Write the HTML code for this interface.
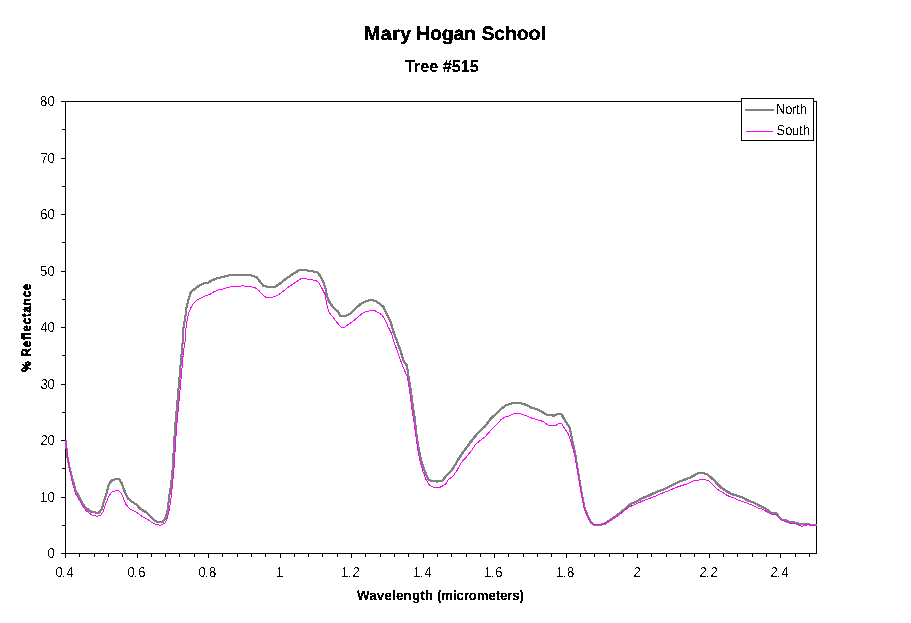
<!DOCTYPE html>
<html lang="en"><head><meta charset="utf-8"><title>Mary Hogan School - Tree #515</title>
<style>
html,body{margin:0;padding:0;background:#fff;}
body{width:911px;height:623px;overflow:hidden;font-family:"Liberation Sans",sans-serif;}
svg{display:block}
</style></head><body>
<svg width="911" height="623" viewBox="0 0 911 623">
<rect x="0" y="0" width="911" height="623" fill="#fff"/>
<g shape-rendering="crispEdges" fill="#000">
<rect x="65" y="101" width="752" height="1"/>
<rect x="816" y="101" width="1" height="453"/>
<rect x="65" y="101" width="1" height="453"/>
<rect x="65" y="553" width="752" height="1"/>
<rect x="61" y="553" width="4" height="1"/>
<rect x="62" y="525" width="3" height="1"/>
<rect x="61" y="497" width="4" height="1"/>
<rect x="62" y="468" width="3" height="1"/>
<rect x="61" y="440" width="4" height="1"/>
<rect x="62" y="412" width="3" height="1"/>
<rect x="61" y="384" width="4" height="1"/>
<rect x="62" y="355" width="3" height="1"/>
<rect x="61" y="327" width="4" height="1"/>
<rect x="62" y="299" width="3" height="1"/>
<rect x="61" y="271" width="4" height="1"/>
<rect x="62" y="242" width="3" height="1"/>
<rect x="61" y="214" width="4" height="1"/>
<rect x="62" y="186" width="3" height="1"/>
<rect x="61" y="158" width="4" height="1"/>
<rect x="62" y="129" width="3" height="1"/>
<rect x="61" y="101" width="4" height="1"/>
<rect x="65" y="553" width="1" height="5"/>
<rect x="79" y="553" width="1" height="4"/>
<rect x="94" y="553" width="1" height="4"/>
<rect x="108" y="553" width="1" height="4"/>
<rect x="122" y="553" width="1" height="4"/>
<rect x="137" y="553" width="1" height="5"/>
<rect x="151" y="553" width="1" height="4"/>
<rect x="165" y="553" width="1" height="4"/>
<rect x="179" y="553" width="1" height="4"/>
<rect x="194" y="553" width="1" height="4"/>
<rect x="208" y="553" width="1" height="5"/>
<rect x="222" y="553" width="1" height="4"/>
<rect x="237" y="553" width="1" height="4"/>
<rect x="251" y="553" width="1" height="4"/>
<rect x="265" y="553" width="1" height="4"/>
<rect x="280" y="553" width="1" height="5"/>
<rect x="294" y="553" width="1" height="4"/>
<rect x="308" y="553" width="1" height="4"/>
<rect x="322" y="553" width="1" height="4"/>
<rect x="337" y="553" width="1" height="4"/>
<rect x="351" y="553" width="1" height="5"/>
<rect x="365" y="553" width="1" height="4"/>
<rect x="380" y="553" width="1" height="4"/>
<rect x="394" y="553" width="1" height="4"/>
<rect x="408" y="553" width="1" height="4"/>
<rect x="423" y="553" width="1" height="5"/>
<rect x="437" y="553" width="1" height="4"/>
<rect x="451" y="553" width="1" height="4"/>
<rect x="466" y="553" width="1" height="4"/>
<rect x="480" y="553" width="1" height="4"/>
<rect x="494" y="553" width="1" height="5"/>
<rect x="508" y="553" width="1" height="4"/>
<rect x="523" y="553" width="1" height="4"/>
<rect x="537" y="553" width="1" height="4"/>
<rect x="551" y="553" width="1" height="4"/>
<rect x="566" y="553" width="1" height="5"/>
<rect x="580" y="553" width="1" height="4"/>
<rect x="594" y="553" width="1" height="4"/>
<rect x="609" y="553" width="1" height="4"/>
<rect x="623" y="553" width="1" height="4"/>
<rect x="637" y="553" width="1" height="5"/>
<rect x="651" y="553" width="1" height="4"/>
<rect x="666" y="553" width="1" height="4"/>
<rect x="680" y="553" width="1" height="4"/>
<rect x="694" y="553" width="1" height="4"/>
<rect x="709" y="553" width="1" height="5"/>
<rect x="723" y="553" width="1" height="4"/>
<rect x="737" y="553" width="1" height="4"/>
<rect x="752" y="553" width="1" height="4"/>
<rect x="766" y="553" width="1" height="4"/>
<rect x="780" y="553" width="1" height="5"/>
<rect x="795" y="553" width="1" height="4"/>
<rect x="809" y="553" width="1" height="4"/>
</g>
<defs><path id="n" d="M65.5,440.5 L67.9,460.3 L70.5,471.3 L73.2,481.9 L75.8,491.1 L78.4,495.7 L81.7,502.3 L85.0,506.9 L89.6,511.1 L94.2,512.4 L98.9,512.8 L101.5,509.5 L103.5,502.9 L106.1,495.0 L109.0,483.8 L112.0,480.3 L116.6,479.0 L119.3,479.5 L121.6,483.2 L124.5,491.1 L127.8,498.3 L131.8,501.6 L136.4,504.5 L140.3,508.9 L145.6,511.9 L150.2,516.1 L154.2,520.2 L158.1,522.1 L162.7,521.7 L165.4,518.4 L167.3,512.1 L169.3,496.3 L171.3,483.2 L172.6,470.0 L174.9,430.0 L181.9,350.0 L182.8,341.1 L183.5,328.0 L185.4,316.1 L186.8,305.6 L188.7,299.0 L190.7,292.4 L192.7,290.4 L198.0,286.5 L203.2,283.6 L208.5,282.5 L211.8,280.3 L217.7,278.2 L223.0,276.8 L229.6,275.3 L240.1,275.3 L250.6,275.3 L256.6,277.0 L259.9,281.6 L263.8,286.2 L269.8,286.9 L275.0,286.6 L279.6,284.0 L284.2,280.0 L289.5,276.3 L294.8,272.7 L299.4,270.2 L306.6,270.4 L311.9,271.3 L317.2,272.1 L320.5,276.3 L323.1,281.6 L325.1,286.9 L327.1,296.1 L329.0,301.4 L333.0,307.3 L337.6,311.2 L340.2,315.9 L345.5,316.2 L350.8,313.2 L355.4,308.6 L360.6,304.0 L366.3,301.1 L371.0,300.0 L375.6,301.1 L379.5,303.7 L383.5,307.0 L386.8,314.2 L390.7,322.1 L393.3,331.4 L397.3,341.9 L400.6,351.1 L403.9,361.7 L406.9,365.5 L408.5,376.1 L410.2,386.6 L411.9,398.5 L413.5,410.3 L415.0,420.0 L416.3,433.2 L418.3,446.3 L421.0,459.5 L424.2,470.1 L428.2,479.3 L432.1,481.2 L437.4,481.6 L442.7,480.6 L446.6,475.3 L451.9,470.1 L455.9,463.5 L459.8,456.9 L465.1,449.6 L470.3,442.4 L475.6,435.8 L480.6,430.3 L485.3,426.1 L490.5,418.9 L495.8,414.2 L501.1,409.0 L506.3,405.0 L512.3,403.4 L520.8,403.4 L526.1,404.8 L531.4,407.7 L538.0,409.6 L543.2,412.7 L548.5,415.3 L553.8,415.6 L557.7,414.0 L561.7,414.5 L564.3,419.5 L569.6,427.4 L571.5,436.6 L573.5,445.9 L575.5,455.1 L577.4,468.2 L579.6,481.3 L581.9,494.5 L584.5,507.7 L587.5,515.6 L590.8,522.2 L593.5,524.5 L598.7,524.8 L604.0,524.2 L608.0,521.5 L613.2,518.2 L617.2,515.3 L621.8,511.4 L626.4,508.3 L631.0,503.7 L635.6,502.2 L642.2,498.2 L648.8,495.6 L656.6,491.8 L663.2,489.5 L669.8,486.5 L676.3,482.9 L682.9,480.3 L689.5,477.9 L694.8,475.0 L698.7,473.1 L702.7,473.1 L707.3,474.2 L710.6,477.3 L714.5,480.6 L718.5,485.2 L721.8,488.2 L726.4,491.1 L731.7,494.1 L736.9,495.7 L742.2,497.4 L747.5,500.3 L754.1,502.7 L759.3,505.6 L764.6,508.0 L771.2,512.8 L775.9,513.2 L781.1,519.4 L785.1,520.1 L789.7,522.0 L794.3,522.4 L799.6,524.0 L807.5,524.3 L816.0,525.3"/></defs>
<g fill="none" stroke="#808080" stroke-width="1" stroke-linejoin="round" shape-rendering="crispEdges">
<use href="#n" x="-0.5" y="-0.5"/>
<use href="#n" x="0.5" y="-0.5"/>
<use href="#n" x="-0.5" y="0.5"/>
<use href="#n" x="0.5" y="0.5"/>
</g>
<path d="M65.5,440.0 L67.9,458.0 L69.9,471.3 L72.5,483.2 L75.8,494.4 L78.4,498.3 L82.4,505.6 L86.3,510.8 L91.6,514.8 L96.9,516.4 L100.8,515.4 L103.5,510.8 L106.1,502.9 L109.4,495.0 L112.7,491.5 L118.0,490.4 L120.6,492.4 L123.2,497.7 L125.9,504.2 L129.8,508.9 L135.1,511.5 L139.0,514.1 L143.0,517.2 L146.9,518.7 L152.2,522.7 L156.2,524.7 L160.8,525.3 L164.7,523.3 L167.3,518.7 L169.3,509.5 L171.3,496.3 L172.6,483.2 L173.9,470.0 L176.4,430.0 L183.6,350.0 L185.5,339.7 L186.0,328.1 L187.4,318.5 L188.6,313.2 L190.8,307.9 L193.2,303.6 L196.6,300.4 L201.4,297.8 L204.3,296.2 L210.0,294.4 L212.9,292.3 L217.7,290.1 L222.6,289.1 L226.4,287.9 L231.7,286.5 L240.1,286.5 L242.7,285.5 L245.4,286.5 L250.0,286.3 L255.3,287.9 L259.2,290.8 L262.5,294.8 L265.8,297.2 L272.4,297.2 L277.7,295.4 L282.9,291.5 L289.5,286.2 L294.8,282.9 L301.4,278.3 L305.3,278.7 L310.6,279.6 L315.9,280.6 L318.5,282.3 L321.8,288.2 L325.1,294.8 L327.1,305.3 L328.8,311.9 L333.0,317.2 L337.6,323.1 L341.5,327.7 L344.8,327.1 L347.9,324.8 L353.2,321.1 L358.4,316.6 L363.7,312.3 L369.0,311.0 L374.9,310.7 L378.2,312.7 L382.1,314.9 L384.8,319.5 L388.1,326.8 L391.4,333.3 L394.0,341.9 L398.0,353.1 L402.9,366.9 L407.3,376.7 L408.9,386.6 L410.6,398.5 L412.1,410.3 L413.7,420.0 L415.7,434.5 L417.7,449.0 L420.3,462.1 L422.9,471.4 L426.2,479.9 L429.5,485.2 L434.1,487.4 L440.1,487.2 L445.3,484.5 L448.6,479.3 L453.2,476.0 L457.2,470.1 L461.1,462.8 L466.4,456.9 L471.7,450.3 L475.6,444.4 L480.0,440.6 L485.3,436.6 L490.5,430.7 L495.8,425.4 L501.1,419.5 L505.7,416.5 L509.0,416.2 L512.9,414.0 L519.5,413.6 L526.1,415.6 L532.7,418.5 L540.6,420.6 L544.5,422.4 L548.5,425.4 L555.7,425.4 L559.0,423.5 L561.7,423.5 L564.3,428.1 L568.3,434.0 L570.9,441.9 L573.5,451.1 L575.2,458.0 L577.0,468.2 L579.2,481.3 L581.6,494.5 L584.0,507.7 L586.9,515.6 L590.2,521.5 L593.5,524.5 L598.7,524.8 L604.0,523.8 L609.3,520.9 L614.5,518.0 L619.8,514.3 L625.1,510.1 L629.0,507.0 L635.6,504.4 L642.2,501.1 L650.1,498.2 L656.6,495.7 L663.2,492.7 L669.8,490.2 L676.3,487.4 L682.9,485.2 L688.2,483.5 L692.1,481.2 L697.4,480.3 L702.0,479.5 L708.0,480.3 L711.9,483.9 L717.2,489.1 L722.4,492.4 L727.7,495.7 L733.0,497.7 L738.3,500.3 L744.8,502.3 L751.4,504.9 L758.0,508.0 L763.3,509.5 L767.2,512.2 L771.9,514.5 L775.9,514.8 L781.1,519.8 L789.0,523.0 L795.6,524.0 L802.2,526.4 L807.5,524.7 L816.0,526.0" fill="none" stroke="#ff00ff" stroke-width="1" stroke-linejoin="round" shape-rendering="crispEdges"/>
<g shape-rendering="crispEdges">
<rect x="741.5" y="98.5" width="72" height="42" fill="#fff" stroke="#000" stroke-width="1"/>
<rect x="745" y="109" width="29" height="2" fill="#808080"/>
<rect x="746" y="131" width="27" height="1" fill="#ff00ff"/>
</g>
<defs><filter id="crisp" x="0" y="0" width="100%" height="100%" color-interpolation-filters="sRGB"><feComponentTransfer><feFuncA type="discrete" tableValues="0 1"/></feComponentTransfer></filter><filter id="crisp2" x="-0.5" y="-0.5" width="2" height="2" color-interpolation-filters="sRGB"><feComponentTransfer><feFuncA type="discrete" tableValues="0 1"/></feComponentTransfer></filter></defs>
<g font-family="Liberation Sans, sans-serif" fill="#000" text-rendering="geometricPrecision" filter="url(#crisp)">
<text transform="translate(776,114) scale(1,1.11)" x="0.02 9.27 16.02 20.02 24.02" font-size="13">North</text>
<text transform="translate(776,135) scale(1,1.11)" x="0.52 9.27 16.02 23.02 27.02" font-size="13">South</text>
<text transform="translate(364,40) scale(1,1.0)" font-size="19.57" font-weight="bold" x="0 16.78 28.17 36.28 47.66 52 65.92 77.67 89.42 100.09 111.84 117.4 130.29 141.02 152.82 164.62 176.42" stroke="#000" stroke-width="0.3">Mary Hogan School</text>
<text transform="translate(405,72) scale(1,1.05)" font-size="16.2" font-weight="bold" stroke="#000" stroke-width="0.1">Tree #515</text>
<text transform="translate(357,600) scale(1,1.04)" font-size="13.32" font-weight="bold" x="0 12.27 19.86 27.47 35.08 38.97 46.58 54.91 63.23 67.88 76.2 80 84.28 95.97 99.52 106.77 111.8 119.78 131.47 138.72 143 150.25 155.28 162.55" stroke="#000" stroke-width="0.15">Wavelength (micrometers)</text>
<text transform="translate(47,558) scale(1,1.11)" x="0.52" font-size="13">0</text>
<text transform="translate(40,502) scale(1,1.11)" x="0.02 7.52" font-size="13">10</text>
<text transform="translate(40,445) scale(1,1.11)" x="0.52 7.52" font-size="13">20</text>
<text transform="translate(40,389) scale(1,1.11)" x="0.52 7.52" font-size="13">30</text>
<text transform="translate(40,332) scale(1,1.11)" x="0.52 7.52" font-size="13">40</text>
<text transform="translate(40,276) scale(1,1.11)" x="0.02 7.52" font-size="13">50</text>
<text transform="translate(40,219) scale(1,1.11)" x="0.27 7.52" font-size="13">60</text>
<text transform="translate(40,163) scale(1,1.11)" x="0.77 7.52" font-size="13">70</text>
<text transform="translate(40,106) scale(1,1.11)" x="0.02 7.52" font-size="13">80</text>
<text transform="translate(55,577) scale(1,1.11)" x="0.52 7.02 11.52" font-size="13">0.4</text>
<text transform="translate(127,577) scale(1,1.11)" x="0.52 7.02 11.27" font-size="13">0.6</text>
<text transform="translate(198,577) scale(1,1.11)" x="0.52 7.02 11.02" font-size="13">0.8</text>
<text transform="translate(276,577) scale(1,1.11)" x="0.02" font-size="13">1</text>
<text transform="translate(341,577) scale(1,1.11)" x="0.02 7.02 11.52" font-size="13">1.2</text>
<text transform="translate(413,577) scale(1,1.11)" x="0.02 7.02 11.52" font-size="13">1.4</text>
<text transform="translate(484,577) scale(1,1.11)" x="0.02 7.02 11.27" font-size="13">1.6</text>
<text transform="translate(556,577) scale(1,1.11)" x="0.02 7.02 11.02" font-size="13">1.8</text>
<text transform="translate(633,577) scale(1,1.11)" x="0.52" font-size="13">2</text>
<text transform="translate(699,577) scale(1,1.11)" x="0.52 7.02 11.52" font-size="13">2.2</text>
<text transform="translate(770,577) scale(1,1.11)" x="0.52 7.02 11.52" font-size="13">2.4</text>
</g>
<text transform="translate(30.8,327.5) rotate(-90) scale(1,1.12)" font-family="Liberation Sans, sans-serif" font-size="12.2" letter-spacing="0.5" font-weight="bold" text-anchor="middle" text-rendering="geometricPrecision" stroke="#000" stroke-width="0.4" filter="url(#crisp2)">% Reflectance</text>
</svg>
</body></html>
